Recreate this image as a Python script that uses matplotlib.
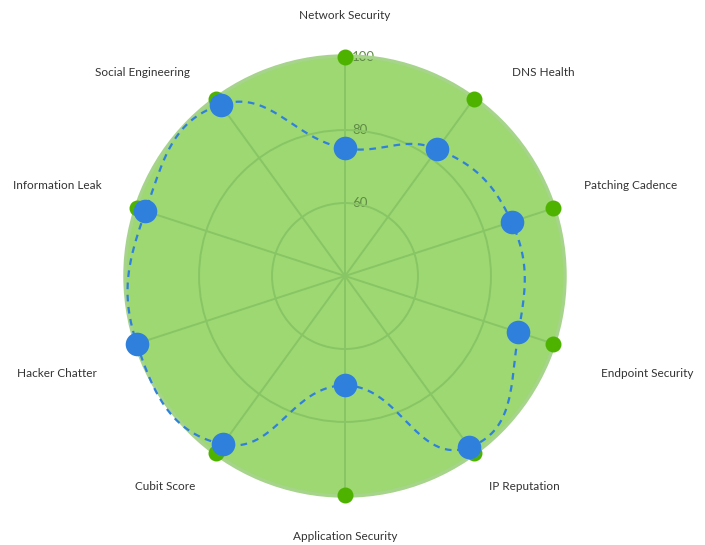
import numpy as np
import matplotlib
matplotlib.use("Agg")
import matplotlib.pyplot as plt

plt.rcParams['font.family'] = ['Lato', 'DejaVu Sans']

categories = ["Network Security", "DNS Health", "Patching Cadence", "Endpoint Security",
              "IP Reputation", "Application Security", "Cubit Score", "Hacker Chatter",
              "Information Leak", "Social Engineering"]
scores = [75, 83, 88, 90, 98, 70, 97, 100, 97.5, 98]
maximum = [100] * 10
r_ticks = [60, 80, 100]
r_min = 40

# label offsets in pixels from the 100 point (dx, dy, ha)
label_offsets = [(0, 42, 'center'), (38, 26, 'left'), (31, 23, 'left'), (48, -30, 'left'),
                 (15, -33, 'left'), (0, -42, 'center'), (-21, -33, 'right'), (-40, -30, 'right'),
                 (-35, 23, 'right'), (-26, 26, 'right')]


def spline(theta, values, steps=40):
    # closed highcharts-like spline, computed in cartesian space
    u = np.array(values, dtype=float) - r_min
    pts = np.column_stack([u * np.sin(theta), u * np.cos(theta)])
    n = len(pts)
    lc, rc = [], []
    for i in range(n):
        p, a, b = pts[i], pts[i - 1], pts[(i + 1) % n]
        da, db = np.linalg.norm(a - p), np.linalg.norm(b - p)
        t = (b - p) / db - (a - p) / da
        t = t / np.linalg.norm(t)
        lc.append(p - t * da / 2.5)
        rc.append(p + t * db / 2.5)
    out = []
    s = np.linspace(0, 1, steps, endpoint=False)[:, None]
    for i in range(n):
        p0, p1, p2, p3 = pts[i], rc[i], lc[(i + 1) % n], pts[(i + 1) % n]
        out.append((1 - s) ** 3 * p0 + 3 * (1 - s) ** 2 * s * p1 + 3 * (1 - s) * s ** 2 * p2 + s ** 3 * p3)
    out.append(pts[:1])
    out = np.vstack(out)
    th = np.unwrap(np.arctan2(out[:, 0], out[:, 1]))
    return th, np.hypot(out[:, 0], out[:, 1]) + r_min


fig = plt.figure(figsize=(7.05, 5.45), dpi=100)
ax = fig.add_axes([125 / 705, 49 / 545, 440 / 705, 440 / 545], projection='polar')
ax.set_theta_zero_location('N')
ax.set_theta_direction(-1)
ax.set_ylim(r_min, 100.3)
ax.set_facecolor('#9dd872')
ax.spines['polar'].set_color('#a6d48a')
ax.spines['polar'].set_linewidth(2.5)

theta = np.linspace(0, 2 * np.pi, len(categories), endpoint=False)

ax.set_xticks(theta)
ax.set_xticklabels([])
ax.set_yticks(r_ticks)
ax.set_yticklabels([])
ax.grid(True, color='#88c564', lw=1.4)
ax.yaxis.get_gridlines()[-1].set_visible(False)
ax.tick_params(length=0)

for v in r_ticks:
    ax.annotate(str(v), xy=(0, v), xytext=(7, 0), textcoords='offset pixels',
                ha='left', va='center', fontsize=9.5, color='#5f8a45', zorder=1)

th_s, r_s = spline(theta, scores)
ax.plot(th_s, r_s, color='#2f80dd', lw=1.6, ls=(0, (3, 2.5)), zorder=3, clip_on=False)

ax.plot(theta, maximum, 'o', color='#4db300', ms=11.5, mec='none', zorder=4, clip_on=False)
ax.plot(theta, scores, 'o', color='#2f80dd', ms=17, mec='none', zorder=5, clip_on=False)

for th, name, (dx, dy, ha) in zip(theta, categories, label_offsets):
    ax.annotate(name, xy=(th, 100), xytext=(dx, dy), textcoords='offset pixels',
                ha=ha, va='center', fontsize=8.5, color='#333333', annotation_clip=False)

fig.savefig('out.png', dpi=100)
